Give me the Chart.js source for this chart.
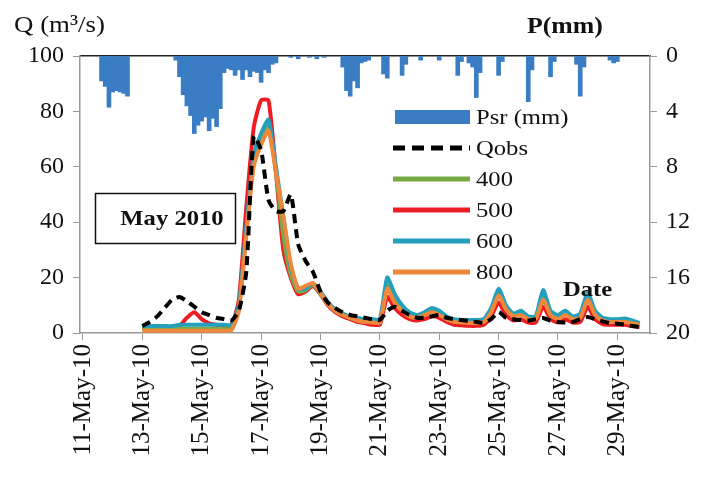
<!DOCTYPE html>
<html>
<head>
<meta charset="utf-8">
<script src="https://cdn.jsdelivr.net/npm/chart.js@4.4.1/dist/chart.umd.min.js"></script>
<style>
  html, body { margin: 0; padding: 0; background: #fff; }
</style>
</head>
<body>
<canvas id="flow-chart" width="702" height="482"></canvas>
<script>
// x ticks (day of May 2010)
var tickDays = [11, 13, 15, 17, 19, 21, 23, 25, 27, 29];
var tickLabels = ["11-May-10", "13-May-10", "15-May-10", "17-May-10", "19-May-10",
  "21-May-10", "23-May-10", "25-May-10", "27-May-10", "29-May-10"];

// rainfall, 3-hourly bins (only non-zero ones)
var rainDay = [11.625, 11.75, 11.875, 12.0, 12.125, 12.25, 12.375, 12.5,
  14.125, 14.25, 14.375, 14.5, 14.625, 14.75, 14.875, 15.0, 15.125, 15.25, 15.375, 15.5,
  15.625, 15.75, 15.875, 16.0, 16.125, 16.25, 16.375, 16.5, 16.625, 16.75, 16.875, 17.0,
  17.125, 17.25, 17.375, 17.5, 18.0, 18.25, 18.625, 18.875, 19.125,
  19.75, 19.875, 20.0, 20.125, 20.25, 20.375, 20.5, 20.625,
  21.125, 21.25, 21.75, 21.875, 22.375, 23.0, 23.625, 23.75, 24.0, 24.125, 24.25, 24.375,
  25.0, 25.125, 26.0, 26.125, 26.75, 26.875, 27.625, 27.75, 27.875, 28.75, 28.875, 29.0];
var rainMm = [1.8, 2.2, 3.7, 2.6, 2.5, 2.6, 2.7, 2.9,
  0.3, 1.5, 2.8, 3.6, 4.3, 5.6, 5.0, 4.7, 4.4, 5.4, 4.5, 5.1,
  3.8, 1.2, 0.9, 1.0, 1.4, 1.0, 1.7, 1.0, 1.5, 1.1, 1.2, 1.9,
  1.0, 1.2, 0.6, 0.5, 0.1, 0.2, 0.1, 0.2, 0.1,
  0.8, 2.5, 2.9, 1.8, 2.3, 0.5, 0.4, 0.3,
  1.3, 1.6, 1.4, 0.6, 0.3, 0.3, 1.4, 0.4, 0.5, 0.8, 3.0, 1.2,
  1.4, 0.4, 3.3, 1.0, 1.5, 0.4, 0.6, 2.9, 0.8, 0.3, 0.5, 0.4];

// discharge, 6-hourly from 13 May 00:00
var qDays = [13, 13.25, 13.5, 13.75, 14, 14.25, 14.5, 14.75, 15, 15.25, 15.5, 15.75,
  16, 16.25, 16.5, 16.75, 17, 17.25, 17.5, 17.75, 18, 18.25, 18.5, 18.75,
  19, 19.25, 19.5, 19.75, 20, 20.25, 20.5, 20.75, 21, 21.25, 21.5, 21.75,
  22, 22.25, 22.5, 22.75, 23, 23.25, 23.5, 23.75, 24, 24.25, 24.5, 24.75,
  25, 25.25, 25.5, 25.75, 26, 26.25, 26.5, 26.75, 27, 27.25, 27.5, 27.75,
  28, 28.25, 28.5, 28.75, 29, 29.25, 29.5, 29.75];
var qObs = [2.5, 4, 6, 9, 12, 13, 11.5, 9.5, 7.5, 6.5, 5.5, 5,
  4.5, 8, 22, 71, 66, 48, 44, 44, 50, 32, 26, 22,
  15, 11, 9, 7.5, 6.5, 6, 5.5, 5, 4.7, 8, 9.5, 8,
  6.5, 5.5, 5.5, 6, 6.5, 5.5, 5, 4.7, 4.3, 4, 3.6, 5,
  7.6, 5.5, 5, 4.7, 4.5, 5, 5.4, 4.5, 4, 3.8, 4, 5,
  5.8, 5, 4.2, 3.6, 3.3, 3, 2.5, 2.2];
var q400 = [1.5, 1.5, 1.5, 1.5, 1.5, 1.5, 1.5, 1.5, 1.5, 1.5, 1.5, 1.5,
  1.5, 9, 36, 62, 71, 75, 58, 35, 21, 15, 15.5, 17.5,
  14, 10.5, 8, 6.5, 5.5, 4.5, 4, 4, 4, 17, 12, 8.5,
  6.5, 5.5, 6.5, 8, 7, 5, 4.2, 4, 4, 4, 4.2, 8,
  14, 9, 6.5, 7, 5.5, 5.5, 13, 7, 5.5, 7, 5.5, 6,
  12.5, 7, 5, 4.5, 4.5, 4.5, 4, 3.2];
var q500 = [1.5, 1.5, 1.5, 1.5, 1.5, 2.5, 5.5, 7.5, 5, 3.5, 3, 2.5,
  2.5, 12, 45, 74, 84, 84, 58, 30, 20, 14, 15, 17,
  14, 10, 7.5, 6, 5, 4, 3.5, 3, 3, 13, 9, 6.5,
  5, 4.5, 5, 6, 5.5, 4, 3, 2.8, 2.6, 2.6, 3, 6,
  11, 6.5, 4.5, 5, 3.8, 3.8, 9.5, 5, 3.8, 5, 3.8, 4,
  9.5, 5, 3.2, 3, 3, 3, 2.5, 2.2];
var q600 = [2.5, 2.5, 2.5, 2.5, 2.5, 3, 3, 3, 3, 3, 3, 3,
  3, 10, 38, 64, 72, 77, 60, 42, 24, 16, 16, 18,
  15, 11, 8.5, 7, 6, 5.5, 5, 5, 5, 20, 14, 10,
  7.5, 6.5, 7.5, 9, 8, 6, 5, 4.7, 4.7, 4.7, 5, 9,
  16, 10, 7, 8, 6, 6, 15.5, 8, 6.5, 8, 6, 7,
  14.5, 8, 5.5, 5, 5, 5.2, 4.5, 3.6];
var q800 = [0.8, 0.8, 0.8, 0.8, 0.8, 0.8, 0.8, 0.8, 0.8, 0.8, 0.8, 0.8,
  1, 8, 35, 60, 68, 73, 58, 42, 25, 16, 17, 18,
  14.5, 10.5, 8, 6.5, 5.5, 4.5, 4, 3.8, 3.8, 16, 11, 8,
  6, 5.5, 6.5, 7.5, 6.5, 5, 4, 3.8, 3.6, 3.6, 4, 7.5,
  13.5, 8.5, 6, 6.5, 5, 5, 12, 6.5, 5, 6.5, 5, 5.5,
  12, 6.5, 4.5, 4, 4, 4, 3.5, 3];

var rainColor = "#3A7DC5";
var serif = "'Liberation Serif', 'DejaVu Serif', serif";

function pts(xs, ys) {
  return xs.map(function (x, i) { return { x: x, y: ys[i] }; });
}

function qLine(label, values, color, order, dash) {
  return {
    type: "line",
    label: label,
    data: pts(qDays, values),
    borderColor: color,
    backgroundColor: color,
    borderWidth: 4,
    borderDash: dash || [],
    pointRadius: 0,
    tension: 0.2,
    yAxisID: "y",
    order: order,
  };
}

// draws stretched serif text (the original figure is wide-set)
function wideText(ctx, text, x, y, font, align) {
  ctx.save();
  ctx.font = font;
  ctx.fillStyle = "#111";
  ctx.textBaseline = "middle";
  ctx.textAlign = align || "left";
  ctx.translate(x, y);
  ctx.scale(1.12, 1);
  ctx.fillText(text, 0, 0);
  ctx.restore();
}

var extras = {
  id: "extras",
  afterDraw: function (chart) {
    var ctx = chart.ctx;
    wideText(ctx, "Q (m³/s)", 14, 26, "24px " + serif);
    wideText(ctx, "P(mm)", 527, 27, "bold 23px " + serif);

    // May 2010 box
    ctx.save();
    ctx.strokeStyle = "#111";
    ctx.lineWidth = 1.5;
    ctx.strokeRect(95.5, 193.5, 140, 50);
    ctx.restore();
    wideText(ctx, "May 2010", 172, 219, "bold 22px " + serif, "center");
    wideText(ctx, "Date", 563, 290, "bold 22px " + serif);

    // legend inside the plot
    chart.data.datasets.forEach(function (ds, i) {
      var y = 117 + i * 31;
      ctx.save();
      if (ds.type === "bar") {
        ctx.fillStyle = ds.backgroundColor;
        ctx.fillRect(395, y - 7, 75, 14);
      } else {
        ctx.strokeStyle = ds.borderColor;
        ctx.lineWidth = 5;
        ctx.setLineDash(ds.borderDash.length ? [12, 7] : []);
        ctx.beginPath();
        ctx.moveTo(393, y);
        ctx.lineTo(470, y);
        ctx.stroke();
      }
      ctx.restore();
      wideText(ctx, ds.label, 476, y + 1, "22px " + serif);
    });
  },
};

new Chart("flow-chart", {
  data: {
    datasets: [
      {
        type: "bar",
        label: "Psr (mm)",
        data: pts(rainDay, rainMm),
        backgroundColor: rainColor,
        barThickness: 4,
        yAxisID: "y2",
        order: 6,
      },
      qLine("Qobs", qObs, "#000000", 0, [9, 6]),
      qLine("400", q400, "#78A947", 4),
      qLine("500", q500, "#EE1D23", 5),
      qLine("600", q600, "#24A0BD", 2),
      qLine("800", q800, "#F0883C", 1),
    ],
  },
  options: {
    responsive: false,
    devicePixelRatio: 1,
    animation: false,
    layout: { padding: 0 },
    plugins: {
      legend: { display: false },
      tooltip: { enabled: false },
    },
    scales: {
      x: {
        type: "linear",
        position: "bottom",
        offset: false,
        min: 10.9,
        max: 30.1,
        afterBuildTicks: function (scale) {
          scale.ticks = tickDays.map(function (d) { return { value: d }; });
        },
        afterFit: function (scale) { scale.height = 149; },
        ticks: {
          autoSkip: false,
          minRotation: 90,
          maxRotation: 90,
          padding: 4,
          color: "#111",
          font: { family: serif, size: 25 },
          callback: function (v) { return tickLabels[tickDays.indexOf(v)]; },
        },
        grid: { display: true, drawOnChartArea: false, offset: false, tickLength: 7, color: "#999" },
        border: { color: "#999", width: 1.5 },
      },
      xTop: {
        type: "linear",
        position: "top",
        offset: false,
        min: 10.9,
        max: 30.1,
        afterFit: function (scale) { scale.height = 56; },
        ticks: { display: false },
        grid: { display: true, drawOnChartArea: false, drawTicks: false },
        border: { color: "#222", width: 1.5 },
      },
      y: {
        position: "left",
        min: 0,
        max: 100,
        afterFit: function (scale) { scale.width = 80; },
        ticks: {
          stepSize: 20,
          padding: 9,
          color: "#111",
          font: { family: serif, size: 24 },
        },
        grid: { display: true, drawOnChartArea: false, tickLength: 7, color: "#999" },
        border: { color: "#999", width: 1.5 },
      },
      y2: {
        position: "right",
        min: 0,
        max: 20,
        reverse: true,
        afterFit: function (scale) { scale.width = 52; },
        ticks: {
          stepSize: 4,
          padding: 9,
          color: "#111",
          font: { family: serif, size: 24 },
        },
        grid: { display: true, drawOnChartArea: false, tickLength: 7, color: "#999" },
        border: { color: "#999", width: 1.5 },
      },
    },
  },
  plugins: [extras],
});
</script>
</body>
</html>
